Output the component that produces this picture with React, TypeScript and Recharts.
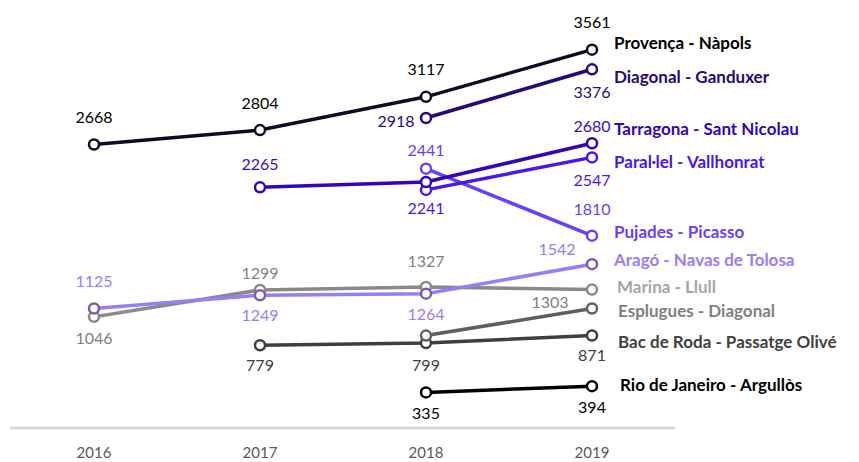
import { LineChart, Line, XAxis, YAxis, LabelList } from "recharts";

const years = ["2016", "2017", "2018", "2019"];
const provenca = [2668, 2804, 3117, 3561];
const diagonal = [null, null, 2918, 3376];
const tarragona = [null, 2265, 2315, 2680];
const parallel = [null, null, 2241, 2547];
const pujades = [null, null, 2441, 1810];
const arago = [1125, 1249, 1264, 1542];
const marina = [1046, 1299, 1327, 1303];
const esplugues = [null, null, 870, 1125];
const bacDeRoda = [null, 779, 799, 871];
const rio = [null, null, 335, 394];

// styling: line/dot/label colours, label offsets [dx, dy] per point (null = no label)
const series = [
  { key: "rio", name: "Rio de Janeiro - Argullòs", values: rio, color: "#000000", dot: "#000000", label: "#000000", nameColor: "#000000", offs: [null, null, [0, 20], [0, 20]], nameOff: [28, -2] },
  { key: "bac", name: "Bac de Roda - Passatge Olivé", values: bacDeRoda, color: "#3f3f3f", dot: "#3f3f3f", label: "#404040", nameColor: "#404040", offs: [null, [0, 19], [0, 21], [0, 19]], nameOff: [26, 6] },
  { key: "esp", name: "Esplugues - Diagonal", values: esplugues, color: "#5f5f5f", dot: "#5f5f5f", label: "#5f5f5f", nameColor: "#7f7f7f", offs: [null, null, null, null], nameOff: [26, 2] },
  { key: "marina", name: "Marina - Llull", values: marina, color: "#898989", dot: "#898989", label: "#7f7f7f", nameColor: "#a6a6a6", offs: [[0, 21], [0, -17], [0, -27], [-42, 12]], nameOff: [25, -3] },
  { key: "arago", name: "Aragó - Navas de Tolosa", values: arago, color: "#9a7cf5", dot: "#7e5ca8", label: "#9a7cf5", nameColor: "#9a7cf5", offs: [[0, -28], [0, 19], [0, 20], [-35, -16]], nameOff: [22, -5] },
  { key: "pujades", name: "Pujades - Picasso", values: pujades, color: "#6a40f6", dot: "#6a40f6", label: "#6a40f6", nameColor: "#6a40f6", offs: [null, null, [0, -19], [0, -27]], nameOff: [22, -4] },
  { key: "parallel", name: "Paral·lel - Vallhonrat", values: parallel, color: "#4a16ee", dot: "#4a16ee", label: "#4a16ee", nameColor: "#4a16ee", offs: [null, null, [0, 18], [0, 22]], nameOff: [22, 4] },
  { key: "tarragona", name: "Tarragona  - Sant Nicolau", values: tarragona, color: "#3405b8", dot: "#3405b8", label: "#3a10c0", nameColor: "#3405b8", offs: [null, [0, -24], null, [0, -18]], nameOff: [22, -15] },
  { key: "diagonal", name: "Diagonal - Ganduxer", values: diagonal, color: "#26087a", dot: "#26087a", label: "#2a0c80", nameColor: "#26087a", offs: [null, null, [-30, 3], [0, 22]], nameOff: [22, 7] },
  { key: "provenca", name: "Provença - Nàpols", values: provenca, color: "#0c0a26", dot: "#0c0a26", label: "#000000", nameColor: "#000000", offs: [[0, -28], [0, -28], [0, -28], [0, -28]], nameOff: [22, -7] },
];

const data = years.map((year, i) => {
  const row: Record<string, any> = { year };
  series.forEach((s) => (row[s.key] = s.values[i]));
  return row;
});

const font = "Lato, 'Noto Sans', sans-serif";

const makeLabel = (s) => (props) => {
  const { value, index } = props;
  const x = props.x ?? props.viewBox?.x;
  const y = props.y ?? props.viewBox?.y;
  if (value == null || x == null || y == null) return null;
  const off = s.offs[index];
  return (
    <g>
      {off && (
        <text x={x + off[0]} y={y + off[1]} textAnchor="middle" dominantBaseline="central" fill={s.label} fontSize={16} fontFamily={font}>
          {value}
        </text>
      )}
      {index === years.length - 1 && (
        <text x={x + s.nameOff[0]} y={y + s.nameOff[1]} textAnchor="start" dominantBaseline="central" fill={s.nameColor} fontSize={17} fontWeight="bold" fontFamily={font}>
          {s.name}
        </text>
      )}
    </g>
  );
};

export default function App() {
  return (
    <div style={{ position: "absolute", left: 0, top: 0, width: 859, height: 462, background: "#fff" }}>
      <LineChart width={859} height={462} data={data} margin={{ top: 3, right: 184, bottom: 0, left: 10 }}>
        <XAxis
          dataKey="year"
          height={34}
          padding={{ left: 84, right: 83 }}
          axisLine={{ stroke: "#d9d9d9", strokeWidth: 3 }}
          tickLine={false}
          tickSize={0}
          tickMargin={19}
          tick={{ fill: "#595959", fontSize: 15, fontFamily: font }}
        />
        <YAxis hide domain={[0, 4000]} />
        {series.map((s) => (
          <Line
            key={s.key}
            dataKey={s.key}
            type="linear"
            stroke={s.color}
            strokeWidth={3.5}
            dot={{ r: 5, fill: "#fff", stroke: s.dot, strokeWidth: 2.5 }}
            activeDot={false}
            isAnimationActive={false}
          >
            <LabelList dataKey={s.key} content={makeLabel(s)} />
          </Line>
        ))}
      </LineChart>
    </div>
  );
}
